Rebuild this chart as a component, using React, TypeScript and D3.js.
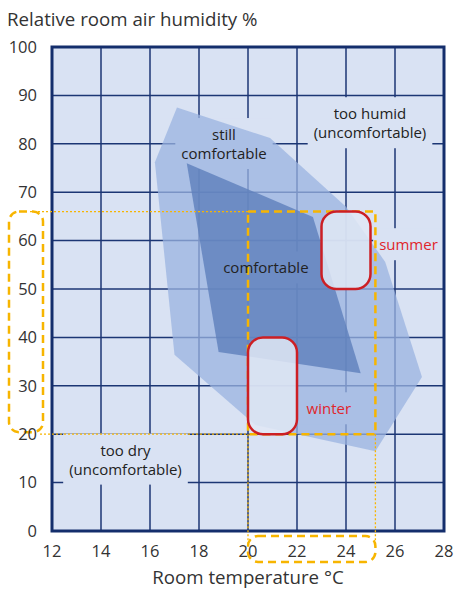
import React, { useEffect, useRef } from 'react';
import * as d3 from 'd3';

// axis ticks
const xTicks = [12, 14, 16, 18, 20, 22, 24, 26, 28];
const yTicks = [0, 10, 20, 30, 40, 50, 60, 70, 80, 90, 100];

// zones as [temperature °C, humidity %]
const stillComfortable: [number, number][] = [
  [17.1, 87.5], [20.9, 81.2], [24.0, 67.0], [25.6, 55.6], [27.1, 31.8],
  [25.2, 16.5], [20.3, 21.9], [17.0, 36.4], [16.2, 76.2],
];
const comfortable: [number, number][] = [
  [17.5, 76.0], [22.65, 64.9], [24.6, 32.6], [18.8, 37.0],
];

// recommended ranges [tMin, tMax, hMin, hMax]
const summer = [23, 25, 50, 66];
const winter = [20, 22, 20, 40];
const recommended = [20, 25.2, 20, 66];

const labels = [
  { lines: ['too humid', '(uncomfortable)'], t: 24.98, h: 84.2, color: '#222' },
  { lines: ['still', 'comfortable'], t: 19.02, h: 79.9, color: '#222' },
  { lines: ['comfortable'], t: 20.73, h: 54.3, color: '#222' },
  { lines: ['summer'], t: 26.55, h: 59.1, color: '#e0262b' },
  { lines: ['winter'], t: 23.3, h: 25.2, color: '#e0262b' },
  { lines: ['too dry', '(uncomfortable)'], t: 15.0, h: 14.7, color: '#222' },
];

const App = () => {
  const ref = useRef<SVGSVGElement>(null);

  useEffect(() => {
    const svg = d3.select(ref.current);
    svg.selectAll('*').remove();
    const font = '"Open Sans", sans-serif';

    const x = d3.scaleLinear().domain([12, 28]).range([52, 444]);
    const y = d3.scaleLinear().domain([0, 100]).range([531, 47]);

    const bg = '#d9e2f3';
    const navy = '#1c3674';
    const orange = '#f7b500';

    svg.append('rect')
      .attr('x', x(12)).attr('y', y(100))
      .attr('width', x(28) - x(12)).attr('height', y(0) - y(100))
      .attr('fill', bg);

    // grid
    const grid = svg.append('g').attr('stroke', navy).attr('stroke-width', 1.5);
    grid.selectAll('line.v').data(xTicks.slice(1, -1)).join('line')
      .attr('class', 'v')
      .attr('x1', d => x(d)).attr('x2', d => x(d))
      .attr('y1', y(100)).attr('y2', y(0));
    grid.selectAll('line.h').data(yTicks.slice(1, -1)).join('line')
      .attr('class', 'h')
      .attr('x1', x(12)).attr('x2', x(28))
      .attr('y1', d => y(d)).attr('y2', d => y(d));

    const gaps = svg.append('g');
    const zones = svg.append('g');

    const line = d3.line<[number, number]>().x(d => x(d[0])).y(d => y(d[1])).curve(d3.curveLinearClosed);
    zones.append('path').attr('d', line(stillComfortable)).attr('fill', '#9ab3e0').attr('opacity', 0.75);
    zones.append('path').attr('d', line(comfortable)).attr('fill', '#5e7fbc').attr('opacity', 0.8);

    // frame
    svg.append('rect')
      .attr('x', x(12)).attr('y', y(100))
      .attr('width', x(28) - x(12)).attr('height', y(0) - y(100))
      .attr('fill', 'none').attr('stroke', '#142e6c').attr('stroke-width', 3);

    // orange guides
    const og = svg.append('g').attr('fill', 'none').attr('stroke', orange);
    const [rt0, rt1, rh0, rh1] = recommended;
    og.append('line').attr('x1', 30).attr('x2', x(rt0)).attr('y1', y(rh1)).attr('y2', y(rh1))
      .attr('stroke-width', 1.3).attr('stroke-dasharray', '2,2');
    og.append('line').attr('x1', 40).attr('x2', x(rt0)).attr('y1', y(rh0)).attr('y2', y(rh0))
      .attr('stroke-width', 1.3).attr('stroke-dasharray', '2,2');
    [rt0, rt1].forEach(t => {
      og.append('line').attr('x1', x(t)).attr('x2', x(t)).attr('y1', y(rh0)).attr('y2', 547)
        .attr('stroke-width', 1.3).attr('stroke-dasharray', '2,2');
    });
    og.append('rect')
      .attr('x', x(rt0)).attr('y', y(rh1))
      .attr('width', x(rt1) - x(rt0)).attr('height', y(rh0) - y(rh1))
      .attr('stroke-width', 2.5).attr('stroke-dasharray', '8,5');
    // axis brackets
    og.append('rect')
      .attr('x', 9).attr('y', y(rh1))
      .attr('width', 34).attr('height', y(rh0) - y(rh1) - 2).attr('rx', 10)
      .attr('stroke-width', 2.5).attr('stroke-dasharray', '8,5');
    og.append('rect')
      .attr('x', x(rt0)).attr('y', 536)
      .attr('width', x(rt1) - x(rt0)).attr('height', 26).attr('rx', 10)
      .attr('stroke-width', 2.5).attr('stroke-dasharray', '8,5');

    // seasonal boxes
    [summer, winter].forEach(([t0, t1, h0, h1]) => {
      svg.append('rect')
        .attr('x', x(t0)).attr('y', y(h1))
        .attr('width', x(t1) - x(t0)).attr('height', y(h0) - y(h1))
        .attr('rx', 15)
        .attr('fill', '#e1e8f5').attr('fill-opacity', 0.85)
        .attr('stroke', '#cc1f24').attr('stroke-width', 2.5);
    });

    // zone labels, with a gap cut into the grid behind them
    labels.forEach(l => {
      const n = l.lines.length;
      const txt = svg.append('text')
        .attr('font-family', font).attr('font-size', 15)
        .attr('fill', l.color).attr('text-anchor', 'middle');
      l.lines.forEach((s, i) => {
        txt.append('tspan')
          .attr('x', x(l.t))
          .attr('y', y(l.h) + (i - (n - 1) / 2) * 19)
          .attr('dy', '0.35em')
          .text(s);
      });
      const b = (txt.node() as SVGTextElement).getBBox();
      gaps.append('rect')
        .attr('x', b.x - 6).attr('y', b.y - 6)
        .attr('width', b.width + 12).attr('height', b.height + 12)
        .attr('fill', bg);
    });

    // tick labels
    svg.append('g').selectAll('text').data(yTicks).join('text')
      .attr('x', 37).attr('y', d => y(d)).attr('dy', '0.35em')
      .attr('text-anchor', 'end')
      .attr('font-family', font).attr('font-size', 16.5).attr('fill', '#333')
      .text(d => d);
    svg.append('g').selectAll('text').data(xTicks).join('text')
      .attr('x', d => x(d)).attr('y', 551).attr('dy', '0.35em')
      .attr('text-anchor', 'middle')
      .attr('font-family', font).attr('font-size', 16.5).attr('fill', '#333')
      .text(d => d);

    svg.append('text')
      .attr('x', 7).attr('y', 26)
      .attr('font-family', font).attr('font-size', 18.7).attr('fill', '#333')
      .text('Relative room air humidity %');
    svg.append('text')
      .attr('x', 248).attr('y', 584)
      .attr('text-anchor', 'middle')
      .attr('font-family', font).attr('font-size', 18.7).attr('fill', '#333')
      .text('Room temperature °C');
  }, []);

  return (
    <svg ref={ref} width={454} height={590}
      style={{ position: 'absolute', left: 0, top: 0, background: '#fff' }} />
  );
};

export default App;
